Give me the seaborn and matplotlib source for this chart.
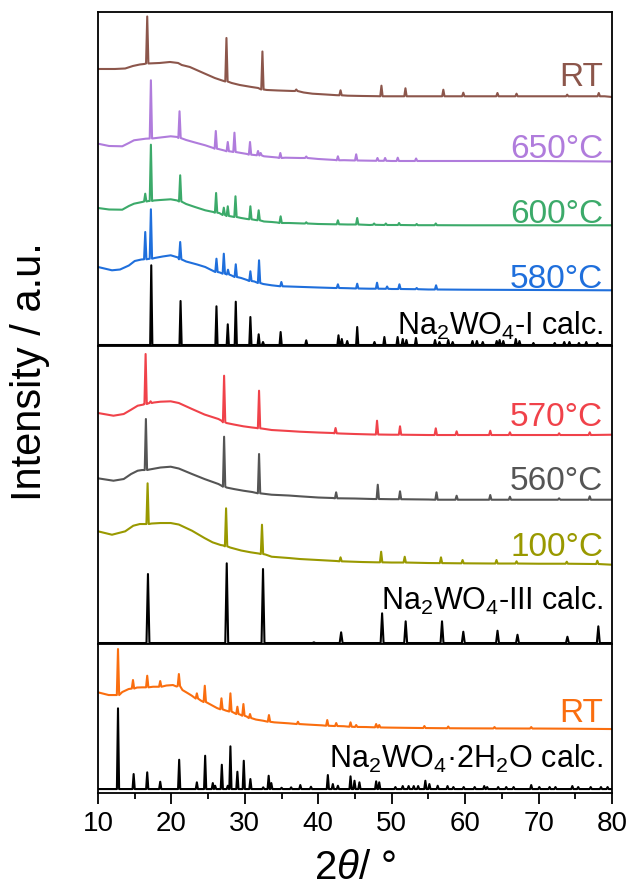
import matplotlib
matplotlib.use("Agg")
import matplotlib.pyplot as plt
import numpy as np
import pandas as pd
import seaborn as sns

# 2theta in degrees, intensity in a.u. (stacking offsets included)
# ---- top panel: Na2WO4-I region ----
rt1_bg_x = [10, 12.3, 13.7, 14.75, 15.7, 16.3, 18.4, 19.8, 20.9, 21.4, 22.5, 24.5, 25.9, 26.9, 28.2,
            29.3, 30.9, 31.8, 33.0, 34.5, 36.5, 38.0, 39.2, 41.0, 42.5, 44.0, 46.0, 48.0, 50.0, 51.4,
            53.0, 56.5, 58.0, 59.3, 62.0, 64.0, 65.5, 66.6, 70.0, 73.5, 75.0, 77.8, 79.0, 80]
rt1_bg_y = [277, 277, 277.5, 280, 281.5, 282, 283, 284, 283, 281, 279, 272.5, 268, 265.5, 263,
            261, 259, 258, 256, 255.5, 255, 253.5, 252.3, 251.5, 250.8, 250.3, 250, 249.8, 249.7, 249.7,
            249.7, 249.7, 249.7, 249.7, 249.7, 249.7, 249.7, 249.7, 249.7, 249.7, 249.7, 249.7, 249.7, 249]
rt1_pk_x = [16.7, 27.49, 32.39, 37.0, 43.03, 48.6, 51.87, 57.03, 59.75, 64.4, 67.0, 73.9, 78.2]
rt1_pk_base = [282.5, 264.5, 256.5, 255, 250.7, 249.7, 249.7, 249.7, 249.7, 249.7, 249.7, 249.7, 249.7]
rt1_pk_top = [329.5, 308, 294.5, 256.5, 255.7, 260.3, 257.7, 256.3, 253.3, 253, 252.3, 251.3, 253]

t650_bg_x = [10, 11.5, 13.3, 14.2, 14.9, 16.5, 18.5, 19.9, 20.8, 22.0, 23.2, 24.6, 25.7, 26.5, 27.2,
             28.1, 29.5, 30.3, 31.3, 32.6, 33.65, 34.4, 35.5, 37.5, 40.0, 42.3, 43.5, 47.0, 50.0, 55.0,
             60.0, 70.0, 80]
t650_bg_y = [202.3, 200, 199.7, 203, 205.7, 207.3, 208.5, 209.7, 209, 206, 203.5, 200.7, 198, 196.8, 195.5,
             194.5, 193, 192, 191, 189.7, 189, 188.5, 188.3, 188, 187, 186, 185.8, 185.3, 185, 185,
             185, 185, 184.5]
t650_pk_x = [17.2, 21.1, 26.04, 27.67, 28.58, 30.7, 31.79, 32.15, 34.83, 38.36, 42.67, 45.16, 48.06, 49.1, 50.82, 53.32]
t650_pk_base = [207.5, 208, 197.3, 194.7, 194, 191.3, 190.7, 190.5, 188, 188, 185.7, 185.5, 185.2, 185.2, 185, 185]
t650_pk_top = [265.7, 234.7, 215, 204, 213.3, 204, 195, 193, 193, 189.5, 189.7, 191.7, 188, 188, 188.3, 187.5]

t600_bg_x = [10, 11.5, 13.3, 14.2, 14.9, 16.0, 16.9, 17.6, 18.5, 19.9, 20.8, 22.0, 23.2, 24.6, 25.7,
             26.5, 27.4, 28.2, 29.5, 30.3, 31.3, 32.6, 33.65, 34.4, 36.0, 38.0, 40.0, 42.2, 44.0, 47.0,
             50.0, 55.0, 60.0, 70.0, 80]
t600_bg_y = [138, 136.5, 136.3, 140, 142.3, 144, 145, 145.5, 146, 146.7, 145.5, 142, 139, 135.7, 134,
             133, 130.5, 129.5, 128, 127, 126.2, 124.5, 124, 123.5, 123, 122.5, 122, 121.7, 121.5, 121,
             121, 120.8, 120.7, 120.7, 120.7]
t600_pk_x = [16.43, 17.2, 21.19, 26.08, 27.13, 27.67, 28.72, 30.75, 31.88, 34.87, 38.36, 42.67, 45.3, 47.6, 49.2, 51.0, 53.4, 56.0]
t600_pk_base = [144.5, 145, 144.5, 133.3, 131, 130, 129, 126.7, 125.7, 123, 122.5, 121.7, 121.5, 121.2, 121, 121, 120.8, 120.8]
t600_pk_top = [152.3, 201.3, 170.7, 153, 138.3, 139.7, 149.7, 139.7, 135.7, 129.7, 123.7, 125.7, 128, 122.5, 122.5, 123, 122, 122.5]

t580_bg_x = [10, 11.9, 13.0, 14.2, 15.0, 15.9, 17.7, 18.8, 19.9, 20.9, 22.0, 23.5, 24.6, 25.7, 26.6,
             27.4, 28.2, 29.5, 30.3, 31.3, 32.5, 33.65, 34.5, 36.0, 38.0, 40.0, 42.2, 44.0, 47.0, 50.0,
             55.0, 60.0, 70.0, 80]
t580_bg_y = [79, 75.7, 76.5, 80.5, 85, 86.5, 88, 89.5, 90.7, 88.5, 84.5, 81.5, 79, 75, 73.5,
             72, 70.5, 68, 66, 64.5, 62, 60.7, 60, 59.5, 59, 58.5, 58, 57.8, 57.3, 57,
             56.5, 56.3, 56, 55.7]
t580_pk_x = [16.43, 17.2, 21.19, 26.13, 27.13, 27.7, 28.76, 30.75, 31.93, 34.97, 42.67, 45.3, 48.0, 49.37, 51.05, 53.4, 56.04]
t580_pk_base = [86.7, 87.3, 86.7, 74, 72.3, 71.5, 69, 65, 63, 59.7, 58, 57.5, 57.3, 57.2, 57, 56.8, 56.5]
t580_pk_top = [114, 136.7, 104, 87.3, 92.3, 76.3, 81.7, 74.7, 85.7, 64, 61.7, 62.3, 63.3, 59.5, 61.7, 58, 60.7]

calc1_x = [17.25, 21.24, 26.13, 27.67, 28.76, 30.75, 31.88, 32.47, 34.87, 38.36, 42.75, 43.2, 43.94, 45.3,
           47.65, 49.0, 50.8, 51.5, 52.0, 53.3, 55.9, 56.5, 57.7, 58.3, 61.0, 61.6, 62.4, 64.3, 64.7,
           65.2, 66.9, 67.4, 69.3, 72.2, 73.5, 74.2, 75.5, 76.5, 78.0]
calc1_int = [79.7, 44, 38.7, 20.7, 43.3, 28, 10.7, 3, 13, 4.7, 9.7, 6, 4, 18,
             3, 8, 8, 6, 5, 7, 5, 3, 5, 3, 4, 4, 3, 4, 5,
             4, 6, 4, 2, 2, 3, 3, 2, 3, 2]
calc1_offset = 1

# ---- middle panel: Na2WO4-III region ----
t570_bg_x = [10, 12.1, 13.5, 14.5, 15.4, 16.2, 16.8, 17.6, 18.5, 19.9, 21.0, 22.8, 24.5, 26.4, 26.9,
             27.5, 28.5, 29.8, 31.0, 31.6, 32.3, 33.65, 36.0, 37.5, 40.0, 42.0, 43.0, 45.0, 47.5, 50.0,
             55.0, 60.0, 65.0, 70.0, 75.0, 80]
t570_bg_y = [231, 228.3, 230, 234.3, 238.3, 239.5, 240.5, 241.5, 242.3, 242.7, 241, 235, 229.5, 225, 223,
             221, 219.5, 217.7, 216.5, 216, 215.5, 214, 213, 212.3, 211.5, 211, 210.5, 210, 209.5, 209.3,
             209, 209, 209, 209, 209, 209.3]
t570_pk_x = [16.48, 17.16, 27.17, 31.93, 42.35, 48.0, 51.13, 56.0, 58.84, 63.42, 66.1, 72.8, 76.97]
t570_pk_base = [240, 241, 221.7, 215.7, 210.7, 209.5, 209.3, 209, 209, 209, 209, 209, 209]
t570_pk_top = [290, 242.7, 268.3, 253.3, 216, 223.3, 217.7, 215.7, 212.7, 213.3, 211.7, 210.7, 211.7]

t560_bg_x = [10, 12.1, 13.5, 14.5, 15.4, 16.0, 17.0, 18.5, 19.9, 21.0, 22.8, 24.5, 26.4, 26.9, 27.5,
             28.5, 29.8, 31.0, 31.6, 32.3, 33.65, 36.0, 37.5, 40.0, 42.0, 43.0, 45.0, 47.5, 50.0, 55.0,
             60.0, 70.0, 80]
t560_bg_y = [165.7, 163.3, 165, 170, 173.3, 174, 174.5, 176.5, 177.3, 175.5, 170, 165, 160, 158, 156.5,
             155, 153.3, 152, 151, 150.5, 149.3, 148.5, 147.7, 146.5, 146, 145.7, 145.5, 145, 144.8, 144.5,
             144.3, 144.3, 144.3]
t560_pk_x = [16.52, 27.17, 31.93, 42.43, 48.1, 51.13, 56.1, 58.84, 63.42, 66.1, 72.8, 76.97]
t560_pk_base = [174, 157.3, 150.7, 145.7, 145, 144.8, 144.3, 144.3, 144.3, 144.3, 144.3, 144.3]
t560_pk_top = [225, 207.3, 190, 151.7, 159.3, 152.7, 151.7, 148.3, 149, 147.3, 145.7, 147.7]

t100_bg_x = [10, 11.9, 13.7, 14.8, 15.7, 16.3, 17.3, 18.5, 19.9, 21.0, 22.8, 24.5, 25.6, 26.7, 27.1,
             28.0, 29.5, 30.8, 31.9, 32.8, 33.65, 36.0, 37.5, 40.0, 42.5, 44.0, 46.0, 48.0, 50.0, 55.0,
             60.0, 70.0, 80]
t100_bg_y = [112.7, 109.3, 112.7, 118.3, 120, 120, 120.5, 121, 121, 119.5, 113.3, 106, 101.7, 99, 98.5,
             96.5, 93.5, 91.7, 90.5, 89.5, 87.3, 86, 85, 84, 83, 82.5, 82, 81.7, 81.5, 81,
             80.7, 80.3, 79.3]
t100_pk_x = [16.75, 27.44, 32.33, 43.03, 48.56, 51.77, 56.71, 59.65, 64.27, 67.0, 73.84, 78.0]
t100_pk_base = [120, 97.7, 90, 82.7, 81.7, 81.5, 80.9, 80.7, 80.5, 80.5, 80.3, 80]
t100_pk_top = [160.7, 135.7, 119.3, 86.7, 92.3, 87.3, 86.7, 84, 84, 82.7, 82.3, 83.3]

calc3_x = [16.8, 27.53, 32.47, 39.4, 43.11, 48.69, 51.9, 56.85, 59.75, 64.41, 67.13, 73.93, 78.14]
calc3_int = [69, 79.7, 74, 0.7, 10.7, 29.7, 21.7, 21.7, 11.3, 12.3, 8.3, 6.3, 16.7]
calc3_offset = 1

# ---- bottom panel: dihydrate ----
rt2_bg_x = [10, 11.45, 12.2, 13.3, 14.17, 15.3, 16.0, 17.5, 19.3, 20.2, 20.7, 21.5, 22.3, 22.78, 24.0,
            25.2, 26.2, 27.4, 28.5, 29.4, 30.25, 31.5, 32.5, 34.0, 36.0, 38.5, 40.5, 43.5, 46.5, 49.0,
            52.0, 56.0, 60.0, 65.0, 70.0, 75.0, 80]
rt2_bg_y = [100.7, 98, 98, 101, 104, 105.5, 105.7, 106.3, 107.5, 108, 106.5, 103, 99.5, 97.3, 92.5,
            89, 85, 82.5, 80.3, 78.3, 76.5, 73.5, 72.3, 70.7, 69.7, 68.5, 67.7, 66.8, 66, 65.5,
            65.2, 64.9, 64.7, 64.6, 64.5, 64.3, 64]
rt2_pk_x = [12.72, 14.76, 16.7, 18.47, 21.01, 23.46, 24.54, 26.81, 28.03, 28.98, 29.8, 30.7, 33.28,
            37.23, 41.22, 42.44, 44.39, 45.16, 47.88, 48.3, 54.45, 57.7, 64.0, 69.0]
rt2_pk_base = [98, 104.5, 105.7, 106.3, 107, 94.5, 91, 83.7, 81.5, 79, 77.3, 75, 71.3,
               69, 67.3, 67, 66.3, 66.1, 65.7, 65.6, 65, 64.8, 64.6, 64.5]
rt2_pk_top = [144, 113, 117.3, 112, 119, 99.7, 107.3, 94.7, 99.7, 86.3, 89, 79, 78,
              71.3, 73, 70, 70.7, 68, 69, 68, 67, 66.5, 66, 66]

calc2_x = [12.72, 14.85, 16.7, 18.47, 21.05, 23.46, 24.59, 25.63, 25.95, 26.86, 27.67, 28.03, 28.98,
           29.85, 30.75, 32.5, 33.24, 33.6, 35.0, 36.3, 37.55, 39.0, 41.3, 41.98, 42.67, 44.39, 44.93,
           45.6, 47.88, 48.3, 50.5, 51.5, 52.3, 53.0, 53.6, 54.58, 55.13, 56.26, 57.6, 58.4, 59.8,
           61.3, 62.6, 63.0, 64.5, 65.6, 66.6, 69.0, 70.1, 71.5, 72.3, 74.6, 75.4, 77.1, 78.5, 79.4]
calc2_int = [80.7, 15, 16.7, 7.3, 29.3, 6.7, 33.3, 6, 3.3, 24.3, 3.3, 42.7, 17.3,
             28.3, 10, 1.7, 13.3, 6, 1.3, 1.7, 4, 2.3, 14, 5, 3.3, 12.7, 8.3,
             6.7, 7.7, 6.7, 2, 3, 3, 3, 3, 8.3, 5, 3.3, 3, 2, 2,
             2, 3, 2, 2, 2, 2, 4, 2, 2, 2, 3, 2, 2, 2, 2]
calc2_offset = 4

labels_top = ["RT", "650°C", "600°C", "580°C", r"Na$_2$WO$_4$-I calc."]
labels_top_y = [260.7, 189, 124, 59, 12.3]
labels_mid = ["570°C", "560°C", "100°C", r"Na$_2$WO$_4$-III calc."]
labels_mid_y = [219, 155, 89, 35]
labels_bot = ["RT", r"Na$_2$WO$_4$·2H$_2$O calc."]
labels_bot_y = [72.3, 25.7]


def measured(bg_x, bg_y, pk_x, pk_base, pk_top, hw=0.16):
    xs, ys = list(bg_x), list(bg_y)
    for p, b, t in zip(pk_x, pk_base, pk_top):
        xs += [p - hw, p, p + hw]
        ys += [b, t, b]
    return pd.DataFrame({"x": xs, "y": ys}).sort_values("x", kind="stable")


def calc(pos, inten, offset, hw=0.15):
    xs, ys = [10.0, 80.0], [offset, offset]
    for p, h in zip(pos, inten):
        xs += [p - hw, p, p + hw]
        ys += [offset, offset + h, offset]
    return pd.DataFrame({"x": xs, "y": ys}).sort_values("x", kind="stable")


sns.set_theme(style="ticks")
plt.rcParams["font.family"] = ["Liberation Sans", "DejaVu Sans"]
plt.rcParams["mathtext.fontset"] = "custom"
plt.rcParams["mathtext.rm"] = "Liberation Sans"
plt.rcParams["mathtext.it"] = "Liberation Sans:italic"
plt.rcParams["axes.edgecolor"] = "black"
plt.rcParams["xtick.color"] = "black"
plt.rcParams["text.color"] = "black"

fig = plt.figure(figsize=(6.28, 8.95), dpi=100)
gs = fig.add_gridspec(3, 1, height_ratios=[334, 298, 149], hspace=0,
                      left=0.1561, right=0.9745, bottom=0.1128, top=0.9855)
ax_top = fig.add_subplot(gs[0])
ax_mid = fig.add_subplot(gs[1], sharex=ax_top)
ax_bot = fig.add_subplot(gs[2], sharex=ax_top)

lw = 1.5
panels = [
    (ax_top, 334, [
        (measured(rt1_bg_x, rt1_bg_y, rt1_pk_x, rt1_pk_base, rt1_pk_top), "#8c564b"),
        (measured(t650_bg_x, t650_bg_y, t650_pk_x, t650_pk_base, t650_pk_top), "#b07cdc"),
        (measured(t600_bg_x, t600_bg_y, t600_pk_x, t600_pk_base, t600_pk_top), "#3caa6a"),
        (measured(t580_bg_x, t580_bg_y, t580_pk_x, t580_pk_base, t580_pk_top), "#1f6fdc"),
        (calc(calc1_x, calc1_int, calc1_offset), "black"),
    ], labels_top, labels_top_y),
    (ax_mid, 298, [
        (measured(t570_bg_x, t570_bg_y, t570_pk_x, t570_pk_base, t570_pk_top), "#f0424a"),
        (measured(t560_bg_x, t560_bg_y, t560_pk_x, t560_pk_base, t560_pk_top), "#555555"),
        (measured(t100_bg_x, t100_bg_y, t100_pk_x, t100_pk_base, t100_pk_top), "#999900"),
        (calc(calc3_x, calc3_int, calc3_offset, hw=0.2), "black"),
    ], labels_mid, labels_mid_y),
    (ax_bot, 149, [
        (measured(rt2_bg_x, rt2_bg_y, rt2_pk_x, rt2_pk_base, rt2_pk_top), "#fa6e0f"),
        (calc(calc2_x, calc2_int, calc2_offset), "black"),
    ], labels_bot, labels_bot_y),
]

for ax, ymax, traces, labels, label_y in panels:
    colors = []
    for df, c in traces:
        sns.lineplot(data=df, x="x", y="y", ax=ax, color=c, lw=lw, sort=False, estimator=None)
        colors.append(c)
    for txt, yy, c in zip(labels, label_y, colors):
        size = 22 if "calc" in txt else 24
        ax.text(78.8, yy, txt, ha="right", va="baseline", fontsize=size, color=c)
    ax.set_ylim(0, ymax)
    ax.set_xlim(10, 80)
    ax.set_yticks([])
    ax.set_xlabel("")
    ax.set_ylabel("")
    for s in ax.spines.values():
        s.set_visible(True)
        s.set_linewidth(1.3)
    ax.tick_params(axis="x", which="both", bottom=False, labelbottom=False)

ax_bot.set_xticks(np.arange(10, 81, 10))
ax_bot.set_xticks(np.arange(15, 80, 10), minor=True)
ax_bot.tick_params(axis="x", which="major", bottom=True, labelbottom=True, direction="out",
                   length=8, width=1.3, labelsize=20, pad=4)
ax_bot.tick_params(axis="x", which="minor", bottom=True, direction="out", length=4, width=1.3)

fig.text(355 / 628, 1 - 868 / 895, r"2$\theta$/ °", ha="center", va="center", fontsize=29)
fig.text(30 / 628, 1 - 372 / 895, "Intensity / a.u.", ha="center", va="center",
         rotation=90, fontsize=30)

fig.savefig("out.png", dpi=100)
